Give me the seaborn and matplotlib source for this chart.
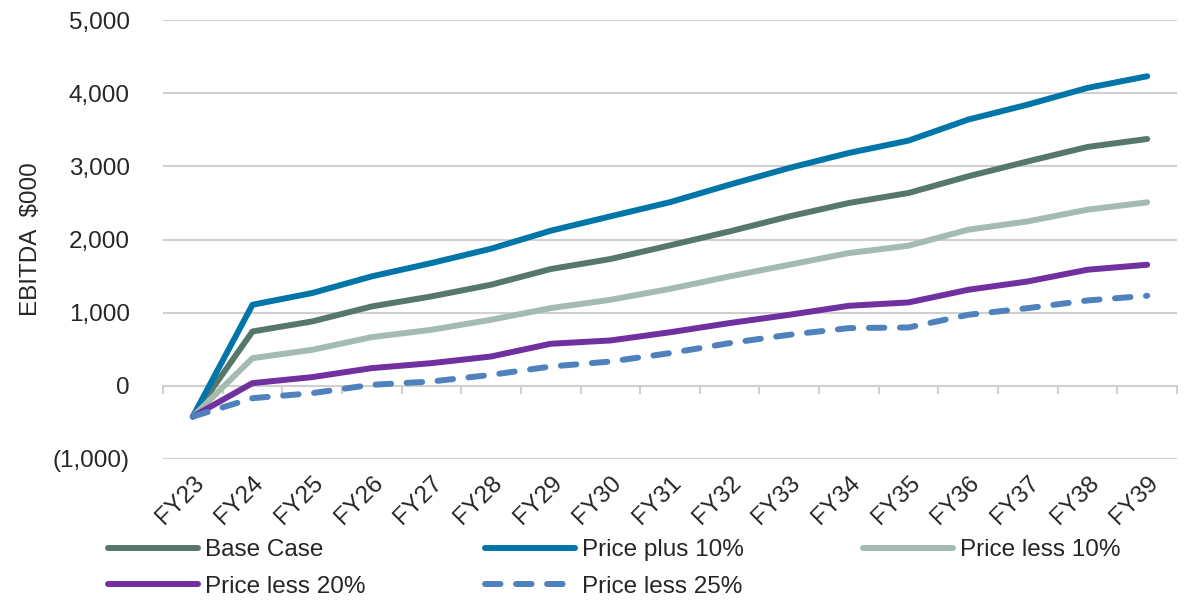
import matplotlib
matplotlib.use("Agg")
import matplotlib.pyplot as plt
import seaborn as sns
import pandas as pd
import numpy as np
from matplotlib.ticker import FuncFormatter

years = ["FY23", "FY24", "FY25", "FY26", "FY27", "FY28", "FY29", "FY30", "FY31",
         "FY32", "FY33", "FY34", "FY35", "FY36", "FY37", "FY38", "FY39"]

base_case = [-420, 743, 880, 1085, 1222, 1382, 1596, 1733, 1920,
             2111, 2316, 2499, 2636, 2864, 3068, 3265, 3374]
price_plus_10 = [-420, 1108, 1268, 1496, 1678, 1874, 2120, 2316, 2510,
                 2750, 2978, 3183, 3352, 3639, 3844, 4072, 4231]
price_less_10 = [-420, 378, 492, 666, 766, 903, 1062, 1176, 1325,
                 1496, 1655, 1815, 1915, 2134, 2248, 2408, 2508]
price_less_20 = [-420, 37, 119, 242, 310, 401, 575, 620, 732,
                 858, 971, 1094, 1140, 1313, 1427, 1587, 1655]
price_less_25 = [-420, -169, -100, 14, 59, 150, 264, 332, 447,
                 584, 698, 789, 798, 971, 1062, 1167, 1231]

series_names = ["Base Case", "Price plus 10%", "Price less 10%",
                "Price less 20%", "Price less 25%"]
series_values = [base_case, price_plus_10, price_less_10, price_less_20, price_less_25]
colors = ["#56786A", "#0076A8", "#A3BBB0", "#7030A0", "#4F81BD"]

rows = []
for name, vals in zip(series_names, series_values):
    for i, v in enumerate(vals):
        rows.append({"idx": i, "year": years[i], "value": v, "series": name})
df = pd.DataFrame(rows)

sns.set_theme(style="white")
plt.rcParams["font.family"] = ["Liberation Sans", "DejaVu Sans"]

FS = 17.5
fig = plt.figure(figsize=(11.87, 6.03), dpi=100)
ax = fig.add_axes([163 / 1187, 1 - 459 / 603, (1177 - 163) / 1187, (459 - 20) / 603])

palette = dict(zip(series_names, colors))
dashes = {n: "" for n in series_names}
dashes["Price less 25%"] = (2.6, 2.6)
sns.lineplot(data=df, x="idx", y="value", hue="series", style="series",
             hue_order=series_names, style_order=series_names,
             palette=palette, dashes=dashes, linewidth=4.3, ax=ax, legend=False)

for ln in ax.lines:
    ln.set_solid_capstyle("round")
    ln.set_dash_capstyle("round")
    ln.set_solid_joinstyle("round")

ax.set_xlim(-0.5, len(years) - 0.5)
ax.set_ylim(-1000, 5000)
ax.set_yticks(np.arange(-1000, 5001, 1000))
ax.yaxis.set_major_formatter(FuncFormatter(
    lambda v, p: f"({abs(int(v)):,})" if v < 0 else f"{int(v):,}"))
ax.grid(axis="y", color="#D0D0D0", linewidth=1.5)
ax.grid(axis="x", visible=False)
ax.set_axisbelow(True)
for s in ax.spines.values():
    s.set_visible(False)

ax.set_xticks(range(len(years)))
ax.set_xticklabels(years, rotation=45, ha="right", va="top", rotation_mode="anchor")
ax.tick_params(axis="x", length=0, labelsize=FS, pad=9)
ax.tick_params(axis="y", length=0, labelsize=FS, pad=24)
ax.set_xlabel("")
ax.set_ylabel("EBITDA  $000", fontsize=FS, labelpad=8)

# category axis crossing at zero
zero_pos = (0 - (-1000)) / 6000
sec = ax.secondary_xaxis(zero_pos)
sec.set_xticks(np.arange(-0.5, len(years), 1.0))
sec.set_xticklabels([])
sec.tick_params(axis="x", direction="out", length=6, width=1.5, color="#D0D0D0")
sec.spines["bottom"].set_color("#D0D0D0")
sec.spines["bottom"].set_linewidth(1.5)

line_map = dict(zip(series_names, ax.lines[:len(series_names)]))
leg_order = ["Base Case", "Price less 20%", "Price plus 10%", "Price less 25%", "Price less 10%"]
leg = fig.legend([line_map[n] for n in leg_order], leg_order, loc="upper left",
                 bbox_to_anchor=(108 / 1187, 1 - 539 / 603), ncol=3, frameon=False,
                 fontsize=FS, handlelength=3.7, handletextpad=0.3,
                 columnspacing=4.9, labelspacing=0.6, borderpad=0, borderaxespad=0)

fig.savefig("out.png", dpi=100)
